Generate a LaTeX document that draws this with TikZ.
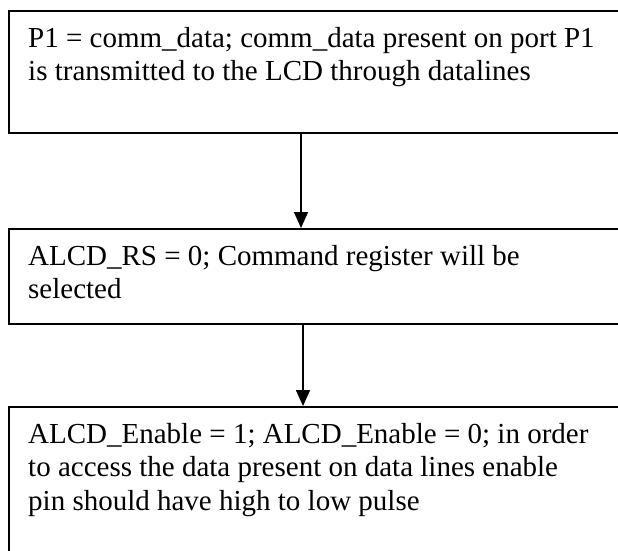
\documentclass[tikz,border=0pt]{standalone}
\usepackage{fontspec}
\setmainfont{Liberation Serif}
\usetikzlibrary{arrows.meta}

\begin{document}
\begin{tikzpicture}[x=1pt,y=1pt,
  stepbox/.style={draw=black, line width=2.2pt, rectangle, inner sep=0pt,
    minimum width=660pt, anchor=north west},
  steptext/.style={anchor=north west, inner sep=0pt, align=left,
    font=\fontsize{29}{33.5}\selectfont},
  flow/.style={line width=1.6pt, -{Triangle[width=14pt,length=16pt]}}]
  \useasboundingbox (0,0) rectangle (618,-550);

  % process boxes (they run past the right and bottom page edges)
  \node[stepbox, minimum height=122pt] (b1) at (8,-10) {};
  \node[stepbox, minimum height=95pt]  (b2) at (8,-228) {};
  \node[stepbox, minimum height=170pt] (b3) at (8,-406) {};

  % box texts
  \node[steptext] (t1) at (28,-27)
    {P1 = comm\_data; comm\_data present on port P1\\
     is transmitted to the LCD through datalines};
  \node[steptext] (t2) at (28,-245)
    {ALCD\_RS = 0; Command register will be\\
     selected};
  \node[steptext] (t3) at (28,-423)
    {ALCD\_Enable = 1; ALCD\_Enable = 0; in order\\
     to access the data present on data lines enable\\
     pin should have high to low pulse};

  % connectors
  \coordinate (c1) at (301,0);
  \coordinate (c2) at (303,0);
  \draw[flow] (b1.south -| c1) -- (b2.north -| c1);
  \draw[flow] (b2.south -| c2) -- (b3.north -| c2);
\end{tikzpicture}
\end{document}
